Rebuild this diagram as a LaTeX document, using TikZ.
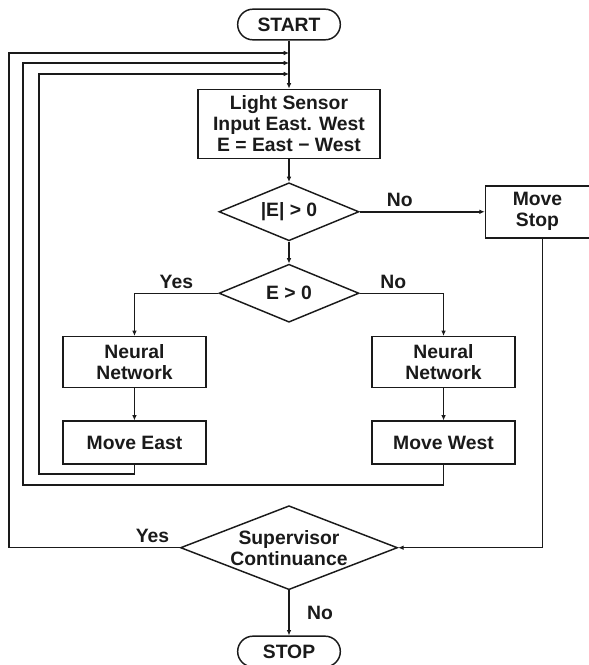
\documentclass[tikz,border=0pt]{standalone}
\usepackage{fontspec}
\setmainfont{Liberation Sans}
\usepackage{xcolor}
\usetikzlibrary{arrows.meta,positioning,shapes.geometric}
\definecolor{ink}{HTML}{1A1A1A}

\begin{document}
\begin{tikzpicture}[
  x=0.75pt, y=-0.75pt,
  font=\bfseries\fontsize{14.5}{15.75}\selectfont,
  box/.style={draw=ink, align=center, inner sep=2pt, text=ink, line width=1.1pt},
  term/.style={box, rounded corners=11.5pt, minimum width=77pt, minimum height=23pt},
  decide/.style={draw=ink, diamond, aspect=2.41, align=center, inner sep=0pt, text=ink, line width=1.1pt},
  lbl/.style={text=ink, inner sep=1pt},
  arr/.style={-{Latex[length=4pt,width=3.5pt]}, line width=1.1pt, ink}
]
  \useasboundingbox (0,0) rectangle (589,665);
  \node[term] (start) at (289,24.5) {START};
  \node[box, below=36pt of start, minimum width=136.5pt, minimum height=51.75pt] (sensor) {Light Sensor\\Input East. West\\E = East − West};
  \node[decide, below=17.25pt of sensor, minimum width=105pt, minimum height=43.5pt] (absdec) {|E| > 0};
  \node[box, right=93.75pt of absdec, minimum width=78pt, minimum height=39pt] (mstop) {Move\\Stop};
  \node[decide, below=16.5pt of absdec, minimum width=105pt, minimum height=43.5pt] (sgndec) {E > 0};
  \node[box, below=9.75pt of sgndec, xshift=-115.9pt, minimum width=107.25pt, minimum height=38.25pt] (nnl) {Neural\\Network};
  \node[box, below=9.75pt of sgndec, xshift=115.9pt, minimum width=107.25pt, minimum height=38.25pt] (nnr) {Neural\\Network};
  \node[box, below=24pt of nnl, minimum width=107.25pt, minimum height=32.25pt] (mve) {Move East};
  \node[box, below=24pt of nnr, minimum width=107.25pt, minimum height=32.25pt] (mvw) {Move West};
  \node[decide, aspect=2.58, below=136.5pt of sgndec, minimum width=162.75pt, minimum height=63pt] (sup) {Supervisor\\Continuance};
  \node[term, below=33.75pt of sup] (halt) {STOP};
  \coordinate (in1) at (289,53);
  \coordinate (in2) at (289,63);
  \coordinate (in3) at (289,74);
  \draw[arr] (start) -- (sensor);
  \draw[arr] (sensor) -- (absdec);
  \draw[arr] (absdec) -- node[lbl, above=2pt, pos=0.32] {No} (mstop);
  \draw[arr] (absdec) -- (sgndec);
  \draw[arr] (sgndec.west) -| node[lbl, above=2pt, pos=0.25] {Yes} (nnl);
  \draw[arr] (sgndec.east) -| node[lbl, above=2pt, pos=0.2] {No} (nnr);
  \draw[arr] (nnl) -- (mve);
  \draw[arr] (nnr) -- (mvw);
  \draw[arr] (mve.south) |- (39,474) |- (in3);
  \draw[arr] (mvw.south) |- (23,485) |- (in2);
  \draw[arr] ([xshift=3.75pt]mstop.south) |- (sup.east);
  \draw[arr] (sup.west) -| node[lbl, above=2pt, pos=0.08] {Yes} (9,53) -- (in1);
  \draw[arr] (sup) -- node[lbl, right=12pt] {No} (halt);
\end{tikzpicture}
\end{document}
